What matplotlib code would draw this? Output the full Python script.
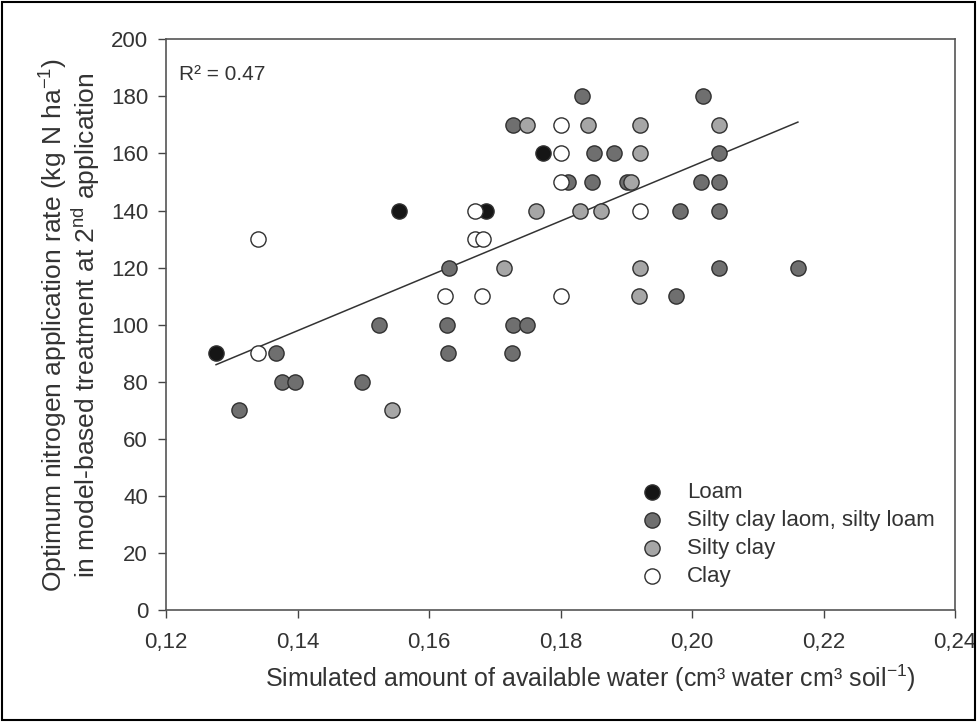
import numpy as np
import matplotlib
matplotlib.use("Agg")
from matplotlib import pyplot as plt
from matplotlib.patches import Rectangle

plt.rcParams['font.family'] = ['Liberation Sans', 'DejaVu Sans']
plt.rcParams['mathtext.fontset'] = 'custom'
plt.rcParams['mathtext.rm'] = 'Liberation Sans'
plt.rcParams['mathtext.it'] = 'Liberation Sans'

# podaci po tipu tla
loam_x = [0.1276, 0.1554, 0.1687, 0.1773]
loam_y = [90, 140, 140, 160]

scl_x = [0.1311, 0.1367, 0.1376, 0.1396, 0.1498, 0.1524, 0.1628, 0.1629, 0.1631,
         0.1726, 0.1728, 0.1749, 0.1728, 0.1812, 0.1833, 0.1848, 0.1851, 0.1881,
         0.1901, 0.1976, 0.1982, 0.2014, 0.2017, 0.2041, 0.2041, 0.2041, 0.2041,
         0.2161]
scl_y = [70, 90, 80, 80, 80, 100, 100, 90, 120,
         90, 100, 100, 170, 150, 180, 150, 160, 160,
         150, 110, 140, 150, 180, 160, 150, 140, 120,
         120]

sc_x = [0.1544, 0.1714, 0.1749, 0.1763, 0.1830, 0.1842, 0.1862, 0.1907, 0.1920,
        0.1921, 0.1921, 0.1921, 0.2041]
sc_y = [70, 120, 170, 140, 140, 170, 140, 150, 110,
        120, 160, 170, 170]

clay_x = [0.1340, 0.1340, 0.1624, 0.1670, 0.1670, 0.1680, 0.1682, 0.1801, 0.1801,
          0.1801, 0.1801, 0.1921]
clay_y = [130, 90, 110, 140, 130, 110, 130, 110, 150,
          160, 170, 140]

xticks = [0.12, 0.14, 0.16, 0.18, 0.20, 0.22, 0.24]
xtick_labels = ["0,12", "0,14", "0,16", "0,18", "0,20", "0,22", "0,24"]
yticks = [0, 20, 40, 60, 80, 100, 120, 140, 160, 180, 200]

# regresijski pravac (krajnje tocke ocitane sa slike)
fit_x = [0.1276, 0.2161]
fit_y = [86, 171]

fig = plt.figure(figsize=(9.77, 7.22), dpi=100)
ax = fig.add_axes([0.170, 0.155, 0.8075, 0.7905])

ms = 120
ec = '#303030'
ax.scatter(loam_x, loam_y, s=ms, c='#151515', edgecolors=ec, linewidths=1, zorder=3, label='Loam')
ax.scatter(scl_x, scl_y, s=ms, c='#6f6f6f', edgecolors=ec, linewidths=1, zorder=3,
           label='Silty clay laom, silty loam')
ax.scatter(sc_x, sc_y, s=ms, c='#a6a6a6', edgecolors=ec, linewidths=1, zorder=3, label='Silty clay')
ax.scatter(clay_x, clay_y, s=ms, c='white', edgecolors=ec, linewidths=1, zorder=3, label='Clay')
ax.plot(fit_x, fit_y, color='#333333', lw=1.1, zorder=2)

ax.set_xlim(0.12, 0.24)
ax.set_ylim(0, 200)
ax.set_xticks(xticks)
ax.set_xticklabels(xtick_labels)
ax.set_yticks(yticks)
ax.tick_params(direction='out', length=6, width=1, colors='#444444', labelcolor='#333333',
               labelsize=16)
ax.tick_params(axis='x', pad=10)
ax.tick_params(axis='y', pad=7)
for sp in ax.spines.values():
    sp.set_color('#555555')
    sp.set_linewidth(1.2)

ax.set_xlabel("Simulated amount of available water (cm³ water cm³ soil$^{-1}$)",
              fontsize=18, color='#333333')
ax.xaxis.set_label_coords(0.538, -0.092)
ax.set_ylabel("Optimum nitrogen application rate (kg N ha$^{-1}$)\n"
              "in model-based treatment at 2$^{nd}$ application",
              fontsize=19, color='#333333', labelpad=6, linespacing=1.0)

ax.text(0.016, 0.955, "R² = 0.47", transform=ax.transAxes, fontsize=15,
        color='#333333', va='top', ha='left')

ax.legend(loc='lower right', bbox_to_anchor=(1.0, 0.005), frameon=False, fontsize=16,
          handletextpad=0.6, labelspacing=0.32, labelcolor='#333333')

fig.patches.append(Rectangle((0.002, 0.003), 0.996, 0.994, transform=fig.transFigure,
                             fill=False, edgecolor='black', lw=1.5))

fig.savefig("out.png", dpi=100)
